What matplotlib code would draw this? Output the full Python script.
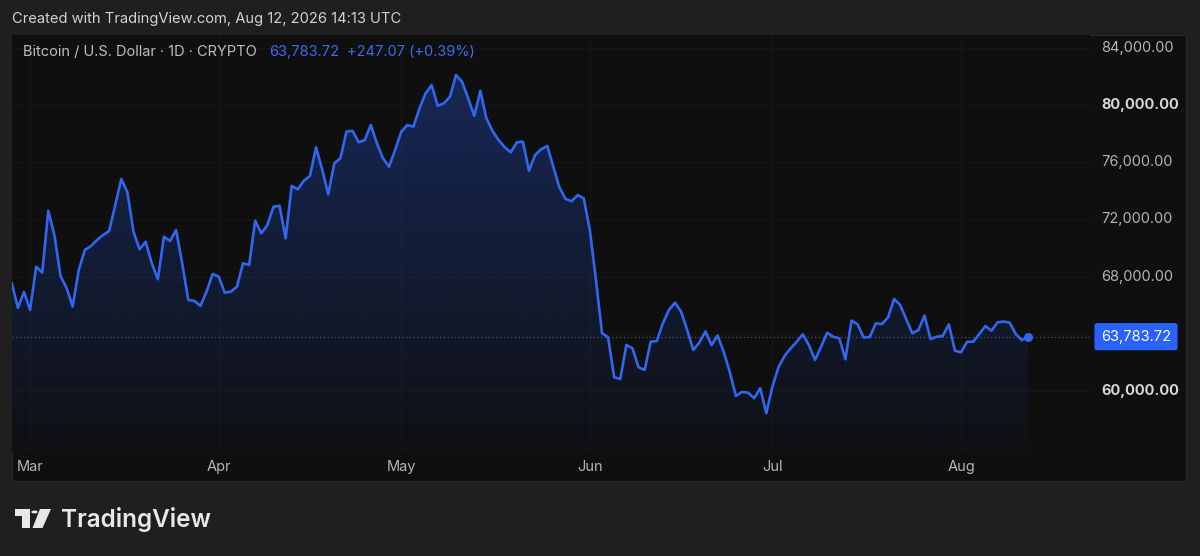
import numpy as np
import pandas as pd
import matplotlib
matplotlib.use("Agg")
import matplotlib.pyplot as plt
import matplotlib.dates as mdates
import matplotlib.transforms as mtransforms
from matplotlib.patches import Rectangle, Polygon, Circle

# daily BTC/USD closes, Feb 26 - Aug 12 2026
start_date = "2026-02-26"
closes = [
    67530, 65800, 66920,
    65660, 68690, 68270, 72610, 70910, 68040, 67200, 65890, 68460, 69860,
    70140, 70560, 70910, 71190, 73010, 74840, 73900, 71140, 69910, 70440,
    68930, 67810, 70790, 70490, 71260, 68930, 66360, 66290, 65940, 66940,
    68180,
    67990, 66870, 66940, 67290, 68930, 68810, 71910, 71030, 71610, 72890,
    72960, 70680, 74350, 74110, 74720, 75050, 77060, 75520, 73760, 75940,
    76290, 78150, 78220, 77410, 77570, 78620, 77340, 76290, 75700, 76870,
    78150, 78620, 78500, 79790, 80840, 81420, 79970, 80140, 80600, 82120,
    81650, 80490, 79250, 81020, 79090, 78200, 77570, 77060, 76710, 77410,
    77450, 75420, 76520, 76920, 77150, 75700, 74240, 73450, 73280, 73710,
    73480,
    71260, 67760, 64020, 63740, 60940, 60820, 63200, 62970, 61640, 61450,
    63430, 63480, 64720, 65660, 66170, 65540, 64250, 62850, 63380, 64150,
    63200, 63870, 62710, 61310, 59630, 59910, 59860, 59470, 60170, 58420,
    60280, 61640, 62430, 62970, 63430, 63950, 63200, 62150, 63080, 64060,
    63780, 63670, 62200, 64910, 64650, 63730, 63760, 64720, 64670, 65130,
    66430, 66010, 65000, 64020, 64250, 65260, 63620, 63780, 63830, 64650,
    62800,
    62690, 63430, 63430, 63970, 64530, 64200, 64790, 64840, 64770, 63970,
    63537, 63783.72,
]
last_price = 63783.72
change = 247.07
change_pct = 0.39
price_ticks = [60000, 64000, 68000, 72000, 76000, 80000, 84000]
price_tick_labels = ["60,000.00", "64,000.00", "68,000.00", "72,000.00",
                     "76,000.00", "80,000.00", "84,000.00"]
month_starts = ["2026-03-01", "2026-04-01", "2026-05-01", "2026-06-01",
                "2026-07-01", "2026-08-01"]
month_labels = ["Mar", "Apr", "May", "Jun", "Jul", "Aug"]

W, H = 1200, 556
BG = "#1f1f1f"
PANEL = "#0f0f0f"
BLUE = "#3066f0"
TXT = "#b4b4b4"

plt.rcParams["font.family"] = ["Inter", "DejaVu Sans"]

dates = pd.date_range(start_date, periods=len(closes), freq="D")
x = mdates.date2num(dates)
y = np.array(closes, dtype=float)


def fx(px):
    return px / W


def fy(py):
    return 1 - py / H


fig = plt.figure(figsize=(W / 100, H / 100), dpi=100, facecolor=BG)

# dark chart panel
fig.patches.append(Rectangle((fx(12), fy(481)), fx(1186) - fx(12), fy(35) - fy(481),
                             transform=fig.transFigure, facecolor=PANEL,
                             edgecolor="#2a2a2a", lw=0.8, zorder=-5))

ax = fig.add_axes([fx(12), fy(452), fx(1090) - fx(12), fy(35) - fy(452)])
ax.set_zorder(2)
ax.set_facecolor(PANEL)
for s in ax.spines.values():
    s.set_visible(False)

x0 = mdates.date2num(pd.Timestamp("2026-03-01"))

# faint grid
for p in price_ticks:
    ax.axhline(p, color="#161616", lw=0.8, zorder=1)
mx = mdates.date2num(pd.to_datetime(month_starts))
for m in mx:
    ax.axvline(m, color="#161616", lw=0.8, zorder=1)

# gradient area under the line
poly = ax.fill_between(x, y, 55700, color="none", lw=0)
grad = np.zeros((256, 1, 4))
grad[:, 0, 0] = 41 / 255
grad[:, 0, 1] = 98 / 255
grad[:, 0, 2] = 255 / 255
grad[:, 0, 3] = np.linspace(0.30, 0.02, 256)
im = ax.imshow(grad, extent=[x[0], x[-1], 55700, y.max()], aspect="auto",
               origin="upper", zorder=2)
im.set_clip_path(poly.get_paths()[0], transform=ax.transData)
ax.set_xlim(x0 - 2.97, x0 + 174.2)
ax.set_ylim(55700, 84930)

ax.plot(x, y, color=BLUE, lw=1.9, zorder=4, solid_joinstyle="round")
ax.plot(x[-1], y[-1], "o", color=BLUE, ms=5.5, zorder=5)
ax.axhline(last_price, color="#4b5670", lw=0.9, ls=(0, (1, 2)), zorder=3)

ax.set_yticks([])
ax.set_xticks(mx)
ax.set_xticklabels(month_labels)
ax.tick_params(axis="x", length=0, pad=6, labelsize=10.5, labelcolor=TXT)

# price scale
tr = mtransforms.blended_transform_factory(fig.transFigure, ax.transData)
for p, lab in zip(price_ticks, price_tick_labels):
    if p == 64000:
        continue
    strong = p in (60000, 80000)
    ax.text(fx(1101), p, lab, transform=tr, ha="left", va="center",
            fontsize=10.5, color="#d6d6d6" if strong else TXT,
            fontweight="bold" if strong else "normal", clip_on=False)
ax.text(fx(1101), last_price, f"{last_price:,.2f}", transform=tr, ha="left",
        va="center", fontsize=10.5, color="white", clip_on=False,
        bbox=dict(boxstyle="round,pad=0.45,rounding_size=0.15", fc="#2962ff",
                  ec="none"))

# header texts
fig.text(fx(12), fy(19), "Created with TradingView.com, Aug 12, 2026 14:13 UTC",
         ha="left", va="center", fontsize=10.6, color="#d2d2d2")
fig.text(fx(23), fy(52), "Bitcoin / U.S. Dollar · 1D · CRYPTO",
         ha="left", va="center", fontsize=10.5, color="#bdbdbd", zorder=5)
fig.text(fx(269), fy(52), f"{last_price:,.2f}", ha="left", va="center",
         fontsize=10.5, color="#3a6cf0", zorder=5)
fig.text(fx(347), fy(52), f"+{change:.2f} (+{change_pct:.2f}%)", ha="left",
         va="center", fontsize=10.5, color="#3a6cf0", zorder=5)

# TradingView logo
logo = "#e8e8e8"
fig.patches.append(Polygon([(fx(15), fy(509)), (fx(30), fy(509)), (fx(30), fy(528)),
                            (fx(22), fy(528)), (fx(22), fy(516)), (fx(15), fy(516))],
                           closed=True, transform=fig.transFigure, fc=logo, ec="none"))
fig.patches.append(Circle((fx(34.5), fy(512)), 3.2 / W, transform=fig.transFigure,
                          fc=logo, ec="none"))
fig.patches.append(Polygon([(fx(40), fy(509)), (fx(51), fy(509)), (fx(42.5), fy(528)),
                            (fx(32.5), fy(528))],
                           closed=True, transform=fig.transFigure, fc=logo, ec="none"))
fig.text(fx(61), fy(519), "TradingView", ha="left", va="center", fontsize=17.5,
         fontweight="semibold", color=logo)

fig.savefig("out.png", dpi=100, facecolor=BG)
